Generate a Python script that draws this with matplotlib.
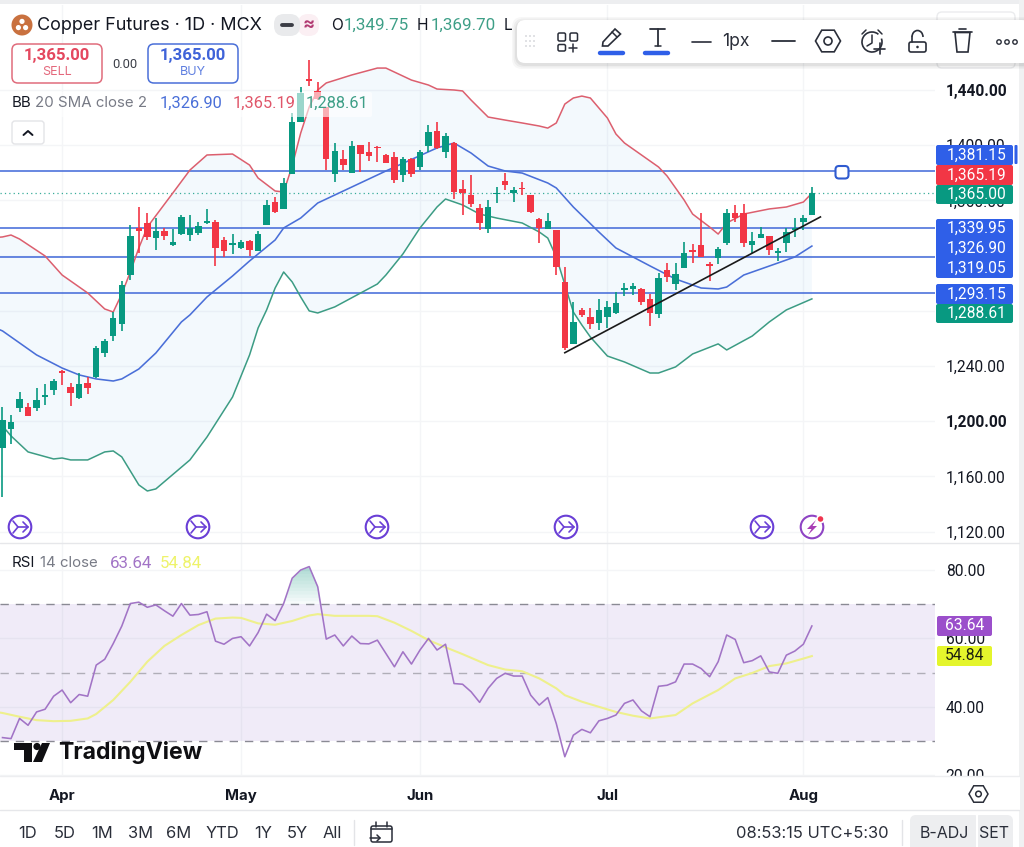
import numpy as np
import matplotlib
matplotlib.use("Agg")
import matplotlib.pyplot as plt
from matplotlib.patches import FancyBboxPatch, Rectangle, Circle, Polygon, RegularPolygon, Arc

plt.rcParams['font.family'] = ['Inter', 'DejaVu Sans']

open_ = [1180.6,1194.3,1209.6,1210.3,1209.6,1217.5,1222.6,1236.4,1224.8,1216.8,1227.7,1232.0,1249.4,1261.7,1270.4,1305.9,
         1340.0,1343.6,1332.7,1337.8,1327.7,1335.6,1334.9,1336.4,1343.6,1344.3,1331.3,1327.7,1325.5,1330.6,1323.3,1342.2,
         1358.8,1353.7,1379.1,1416.8,1448.0,1439.3,1427.7,1379.1,1390.0,1379.8,1400.1,1395.1,1399.0,1392.9,1391.4,1378.4,
         1390.0,1384.2,1399.4,1410.3,1395.1,1401.6,1368.2,1363.9,1354.5,1339.3,1364.6,1374.1,1365.3,1369.3,1363.9,1346.5,
         1339.3,1338.5,1300.9,1255.9,1280.6,1275.5,1271.1,1275.5,1278.4,1295.1,1295.8,1295.8,1288.5,1277.7,1309.6,1299.4,
         1311.0,1324.0,1327.7,1314.2,1318.3,1329.1,1350.9,1350.9,1327.7,1332.7,1334.2,1321.9,1329.1,1338.5,1344.3,1349.75]
high = [1210.3,1204.5,1221.2,1213.2,1224.0,1227.0,1230.6,1237.1,1227.7,1234.9,1232.0,1254.5,1259.6,1279.1,1301.6,1342.2,
        1355.2,1350.9,1347.2,1340.0,1339.3,1349.4,1349.4,1344.3,1353.7,1345.8,1333.5,1335.6,1331.3,1331.3,1337.8,1360.3,
        1362.5,1376.2,1423.3,1442.2,1461.7,1445.8,1428.0,1401.6,1396.5,1403.0,1400.4,1402.3,1399.4,1393.6,1395.1,1391.4,
        1390.7,1396.5,1414.6,1416.8,1408.8,1402.3,1374.8,1378.4,1357.4,1360.3,1369.7,1379.8,1369.7,1373.3,1364.2,1347.2,
        1350.9,1338.8,1311.7,1286.4,1282.0,1282.0,1288.5,1287.1,1293.6,1300.1,1300.1,1296.5,1292.2,1307.4,1314.6,1314.6,
        1329.8,1328.4,1350.9,1315.0,1326.2,1353.7,1356.7,1357.4,1337.1,1340.7,1334.5,1325.5,1340.0,1347.2,1349.4,1369.7]
low = [1145.1,1183.5,1206.7,1203.5,1207.4,1211.7,1219.0,1226.2,1211.0,1216.4,1219.7,1231.5,1246.5,1258.1,1265.4,1302.3,
       1321.9,1331.3,1324.0,1331.3,1327.0,1335.0,1330.6,1334.9,1342.9,1312.5,1319.0,1321.2,1325.0,1319.7,1323.0,1342.0,
       1350.9,1353.5,1379.0,1416.5,1442.9,1432.7,1382.0,1373.3,1382.0,1379.6,1380.6,1388.5,1387.8,1386.8,1372.6,1373.3,
       1377.0,1382.0,1395.1,1397.2,1390.7,1361.0,1349.4,1355.2,1338.5,1336.4,1358.1,1367.5,1358.8,1363.9,1350.9,1329.1,
       1339.0,1305.9,1251.6,1255.6,1275.5,1266.8,1266.1,1267.5,1278.0,1290.7,1291.4,1284.2,1269.0,1274.8,1300.9,1295.1,
       1310.8,1314.6,1318.8,1301.6,1313.9,1327.7,1344.3,1326.2,1321.9,1332.5,1320.4,1316.1,1322.6,1333.5,1338.5,1349.5]
close = [1200.9,1199.4,1216.1,1203.8,1215.4,1219.0,1229.1,1234.9,1220.4,1227.0,1224.1,1253.0,1258.1,1274.8,1298.7,1334.2,
         1337.8,1333.5,1337.8,1334.2,1329.8,1348.0,1340.0,1341.4,1344.7,1325.5,1323.3,1328.8,1329.8,1324.0,1335.6,1356.7,
         1351.6,1372.6,1416.8,1437.8,1446.5,1433.5,1390.0,1395.8,1385.6,1399.4,1393.6,1392.2,1398.0,1387.1,1374.8,1390.0,
         1379.1,1395.1,1409.6,1398.0,1406.7,1366.1,1365.3,1357.4,1343.6,1355.2,1365.7,1371.2,1367.5,1368.2,1351.6,1340.0,
         1345.0,1311.7,1253.0,1271.9,1277.0,1270.4,1280.6,1282.7,1285.6,1296.2,1298.0,1286.4,1278.4,1303.8,1304.5,1306.7,
         1321.9,1322.6,1319.0,1312.8,1324.8,1350.9,1347.2,1329.1,1330.6,1335.6,1324.0,1323.3,1337.1,1340.0,1347.2,1365.0]

upper_i = [-1,0,1,2,5,7,10,12,13,14,15,16,17,20,22,24,27,29,30,32,33,34,35,36,37,38,41,44,45,48,50,51,53,54,55,57,59,61,63,64,65,66,67,68,69,71,72,73,75,77,78,79,80,81,83,84,85,87,90,92,94,95]
upper_v = [1333.0,1333.5,1334.9,1332.0,1319.7,1305.9,1292.9,1281.3,1279.1,1292.2,1308.1,1325.5,1340.7,1365.4,1382.0,1392.9,1393.6,1385.6,1376.2,1366.8,1366.1,1384.9,1408.8,1427.7,1440.0,1445.1,1450.9,1455.9,1455.9,1447.2,1443.6,1440.7,1440.0,1439.3,1432.7,1420.4,1418.2,1416.1,1413.9,1412.4,1416.1,1429.8,1434.2,1435.6,1434.2,1419.7,1408.1,1401.6,1392.9,1384.2,1377.7,1369.0,1360.3,1350.1,1340.7,1335.6,1343.6,1350.1,1353.8,1355.2,1358.8,1365.19]
basis_i = [-1,0,2,4,7,9,11,13,14,16,18,21,22,24,27,29,32,33,35,37,41,45,51,53,55,57,59,61,64,65,67,70,72,76,79,82,84,85,87,91,93,95]
basis_v = [1268.0,1265.4,1256.7,1248.0,1238.5,1233.5,1230.6,1229.1,1230.6,1237.8,1249.4,1271.9,1277.0,1290.0,1305.2,1316.1,1331.3,1340.0,1347.2,1358.1,1369.7,1381.3,1398.0,1401.6,1394.3,1384.9,1381.3,1379.8,1372.6,1369.0,1355.2,1337.1,1325.5,1312.5,1303.0,1296.5,1295.8,1297.2,1305.9,1314.6,1319.0,1326.9]
lower_i = [-1,0,1,2,3,6,7,8,10,12,13,14,16,17,18,22,24,27,29,30,31,32,33,34,35,36,37,39,44,45,47,49,51,52,54,56,58,61,63,64,65,67,68,69,71,73,76,77,79,81,84,85,88,90,92,95]
lower_v = [1203.0,1196.5,1189.3,1183.5,1177.7,1172.6,1173.3,1171.9,1171.9,1177.7,1178.4,1174.1,1153.8,1149.4,1150.9,1171.9,1188.5,1217.5,1248.0,1267.5,1280.6,1296.5,1308.1,1300.9,1290.0,1279.9,1278.4,1282.8,1299.4,1305.9,1321.2,1340.0,1355.2,1361.0,1356.7,1350.1,1347.2,1343.6,1337.1,1332.7,1319.0,1279.1,1269.7,1261.0,1247.2,1242.9,1234.9,1234.9,1239.3,1248.7,1256.0,1251.6,1261.7,1271.9,1280.6,1288.61]

rsi = [31.0,30.7,36.6,34.6,38.5,39.3,43.1,44.9,41.2,43.6,43.1,52.2,53.9,58.5,63.6,70.2,
       70.6,69.1,69.8,68.1,66.5,70.2,66.8,67.0,67.8,59.2,58.3,60.0,60.5,57.8,61.7,67.1,
       65.2,70.2,77.6,80.0,81.0,75.1,59.8,61.0,57.8,60.7,58.5,58.4,59.5,55.6,51.7,56.1,
       52.5,56.6,60.0,56.6,58.3,46.8,46.6,44.4,41.3,45.4,48.3,49.8,49.0,49.0,43.4,40.5,
       42.7,35.1,25.4,31.7,33.4,32.4,35.9,36.6,37.6,41.0,42.0,38.8,37.1,46.0,46.3,47.3,
       52.5,52.5,51.2,48.8,53.2,61.0,59.7,52.9,53.5,54.9,50.2,49.8,55.1,56.3,58.3,63.64]
rsi_ma_i = [-1,0,2,4,6,8,10,11,13,15,17,19,21,23,25,27,28,30,32,34,36,37,39,43,44,46,48,50,52,54,57,59,61,63,65,66,68,70,72,74,76,79,81,84,86,88,90,92,94,95]
rsi_ma_v = [38.6,38.2,37.1,36.1,35.8,35.9,36.6,37.9,42.0,47.3,53.2,57.8,61.0,63.9,65.8,66.1,66.0,64.4,64.0,65.1,66.7,67.1,66.6,66.6,66.5,64.6,62.2,59.5,57.4,55.4,52.2,50.9,50.4,48.3,45.4,43.4,41.5,40.0,38.5,37.4,36.6,37.6,41.0,44.9,48.3,49.9,51.9,52.7,54.1,54.84]

h_levels = [1381.15, 1339.95, 1319.05, 1293.15]
trend_i = [66, 96]
trend_v = [1249.6, 1348.0]
last_price = 1365.0
month_pos = [7, 28, 49, 71, 94]
month_lab = ['Apr', 'May', 'Jun', 'Jul', 'Aug']
price_ticks = [1120, 1160, 1200, 1240, 1280, 1320, 1360, 1400, 1440]
rsi_ticks = [20, 40, 60, 80]
range_buttons = ['1D', '5D', '1M', '3M', '6M', 'YTD', '1Y', '5Y', 'All']

W, H = 1024, 847
GREEN, RED = '#089981', '#F23645'
BLUE_LINE = '#3F67D8'
INK, GREY = '#131722', '#787B86'
NUM = 'Roboto'
px = lambda s: s * 0.72

fig = plt.figure(figsize=(W / 100, H / 100), dpi=100, facecolor='white')
def pane(x0, x1, ytop, ybot):
    return fig.add_axes([x0 / W, 1 - ybot / H, (x1 - x0) / W, (ybot - ytop) / H])

xlim = (-0.293, 109.45)
ax = pane(0, 935, 5, 543)
ar = pane(0, 935, 543, 776)
for a in (ax, ar):
    a.set_xlim(*xlim)
    a.set_facecolor('white')
    for s in a.spines.values():
        s.set_visible(False)
    a.set_xticks(month_pos)
    a.grid(True, color='#F4F5F7', lw=1)
    a.set_axisbelow(True)
    a.yaxis.tick_right()
    a.tick_params(length=0, labelcolor=INK)
    a.tick_params(axis='y', labelsize=px(15.5), labelfontfamily=NUM)
ax.set_ylim(1111.7, 1501.6)
ar.set_ylim(19.77, 87.9)

# price pane
ax.set_xticklabels([])
ax.set_yticks(price_ticks)
ax.set_yticklabels([f'{v:,.2f}' for v in price_ticks])
ax.tick_params(axis='y', pad=8)
for lab, v in zip(ax.get_yticklabels(), price_ticks):
    if v in (1440, 1200):
        lab.set_fontweight('bold')

ax.fill(np.r_[upper_i, lower_i[::-1]], np.r_[upper_v, lower_v[::-1]], color='#3F9CE8', alpha=0.06, lw=0, zorder=1)
for lv in h_levels:
    ax.axhline(lv, color=BLUE_LINE, lw=1.1, zorder=2)
ax.axhline(last_price, color=GREEN, lw=0.9, ls=(0, (1, 2.5)), alpha=0.8, zorder=2)
ax.plot(upper_i, upper_v, color='#DC5F6E', lw=1.1, zorder=2.5)
ax.plot(basis_i, basis_v, color='#4A6FD8', lw=1.15, zorder=2.5)
ax.plot(lower_i, lower_v, color='#3C9C84', lw=1.1, zorder=2.5)

xs = np.arange(len(close))
cols = [GREEN if c >= o else RED for o, c in zip(open_, close)]
ax.vlines(xs, low, high, colors=cols, lw=1.2, zorder=3)
ax.bar(xs, np.abs(np.array(close) - np.array(open_)), bottom=np.minimum(open_, close),
       width=0.76, color=cols, lw=0, zorder=3.2)
ax.plot(trend_i, trend_v, color='#1a1a1a', lw=1.2, zorder=4)

# RSI pane
ar.set_xticklabels(month_lab, fontweight='bold', fontsize=px(15))
ar.tick_params(axis='x', pad=9.3, labelcolor=INK)
ar.set_yticks(rsi_ticks)
ar.set_yticklabels([f'{v:.2f}' for v in rsi_ticks])
ar.tick_params(axis='y', pad=7.7)
ar.axhspan(30, 70, color='#7E57C2', alpha=0.115, lw=0, zorder=1)
for lv, c in ((70, '#8a8a94'), (50, '#b0aeb8'), (30, '#8a8a94')):
    ar.axhline(lv, color=c, lw=1, ls=(0, (6, 5)), zorder=1.5)
for lv in np.arange(70, 81, 1.0):
    ar.fill_between(xs, lv, rsi, where=np.array(rsi) > lv, interpolate=True,
                    color=GREEN, alpha=0.033, lw=0, zorder=1.6)
ar.plot(rsi_ma_i, rsi_ma_v, color='#EEF08C', lw=1.5, zorder=2)
ar.plot(xs, rsi, color='#A274C6', lw=1.15, zorder=3)

# interface layer, in pixels
ui = fig.add_axes([0, 0, 1, 1], zorder=10)
ui.set_xlim(0, W)
ui.set_ylim(H, 0)
ui.axis('off')
ui.patch.set_visible(False)

def box(x0, y0, x1, y1, fc='none', ec='none', lw=1, r=3, z=5, alpha=None):
    p = FancyBboxPatch((x0 + r, y0 + r), x1 - x0 - 2 * r, y1 - y0 - 2 * r,
                       boxstyle=f'round,pad={r},rounding_size={r}', fc=fc, ec=ec, lw=lw, zorder=z, alpha=alpha)
    ui.add_patch(p)
def T(x, y, s, size=14, color=INK, ha='left', va='center', weight='normal', z=7, **k):
    return ui.text(x, y, s, fontsize=px(size), color=color, ha=ha, va=va, fontweight=weight, zorder=z, **k)
def N(x, y, s, size=15.5, color=INK, ha='left', weight='normal', z=7):
    return T(x, y, s, size, color, ha=ha, weight=weight, z=z, family=NUM)
def L(xs_, ys_, color=INK, lw=1.2, z=7, **k):
    ui.plot(xs_, ys_, color=color, lw=lw, zorder=z, solid_capstyle='round', **k)

# page edges and separators
ui.add_patch(Rectangle((0, 0), W, 4.5, fc='#EDEEF0', lw=0, zorder=1))
ui.add_patch(Rectangle((1019, 0), 5, H, fc='#F0F1F2', lw=0, zorder=1))
ui.add_patch(Rectangle((935.5, 776), 84, 34, fc='white', lw=0, zorder=1))
L([0, 1019], [543, 543], '#E6E7EA', 1, 2)
L([0, 1019], [776, 776], '#EDEEF0', 1, 2)
L([0, 1019], [810.5, 810.5], '#E6E7EA', 1, 2)

# legends
box(8, 92, 372, 117, fc='white', alpha=0.6, r=2, z=3)
ui.add_patch(Circle((22, 25), 10.5, fc='#C9713F', lw=0, zorder=6))
for dx, dy in [(0, -3.6), (-3.6, 2.6), (3.6, 2.6)]:
    ui.add_patch(Circle((22 + dx, 25 + dy), 2.6, fc='white', lw=0, zorder=7))
T(37, 25, 'Copper Futures · 1D · MCX', 18)
box(274, 14, 300, 36, fc='#E9EAEC', r=10, z=5)
box(298, 14, 319, 36, fc='#FBEFF3', r=10, z=4.9)
L([282, 292], [25, 25], '#3b3d45', 2.8)
T(308.5, 24.5, '≈', 18, '#B23A72', ha='center', weight='bold')
T(331, 25, 'O', 15.5)
N(344, 25, '1,349.75', 17, '#3E9F87')
T(417, 25, 'H', 15.5)
N(431, 25, '1,369.70', 17, '#3E9F87')
T(504, 25, 'L', 15.5)

box(12, 44, 102, 83, fc='white', ec='#E06C7C', lw=1.1, r=6)
N(57, 55.5, '1,365.00', 16.8, '#E4485F', ha='center', weight='bold')
T(57, 72, 'SELL', 12.5, '#E4687C', ha='center')
N(125, 64, '0.00', 13, '#3C3F48', ha='center')
box(148, 44, 238, 83, fc='white', ec='#4A6FD8', lw=1.1, r=6)
N(193, 55.5, '1,365.00', 16.8, '#3F63D9', ha='center', weight='bold')
T(193, 72, 'BUY', 12.5, '#5F7FE0', ha='center')

T(12, 103, 'BB', 15)
T(35, 103, '20 SMA close 2', 15, GREY)
N(160, 103, '1,326.90', 16.4, '#4A6FD8')
N(233, 103, '1,365.19', 16.4, '#E0566A')
N(306, 103, '1,288.61', 16.4, '#3E9F87')
box(12, 121, 44, 144, fc='white', ec='#E3E4E7', r=3)
L([23.5, 28, 32.5], [135, 131, 135], INK, 1.4)

T(12, 563, 'RSI', 15)
T(40, 563, '14 close', 15, GREY)
N(110, 563, '63.64', 16.9, '#A274C6')
N(160, 563, '54.84', 16.9, '#EEF36A')

# price labels
for y0, y1, s, c in [(145, 165, '1,381.15', '#2F5FE8'), (165, 185, '1,365.19', RED), (185, 204, '1,365.00', GREEN),
                     (284, 304, '1,293.15', '#2F5FE8'), (304, 323, '1,288.61', GREEN)]:
    box(936, y0, 1013, y1, fc=c, r=2)
    N(976.5, (y0 + y1) / 2, s, 15.5, 'white', ha='center')
box(936, 219, 1013, 278, fc='#2F5FE8', r=2)
for y, s in [(228, '1,339.95'), (248, '1,326.90'), (268, '1,319.05')]:
    N(976.5, y, s, 15.5, 'white', ha='center')
box(1014.5, 145, 1017.5, 164, fc='#2F5FE8', r=1)
box(937, 616, 992, 636, fc='#9B4FCB', r=2)
N(965, 626, '63.64', 15.7, 'white', ha='center')
box(937, 646, 992, 666, fc='#E4F52C', r=2)
N(965, 656, '54.84', 15.7, '#1c2010', ha='center')

# line handle
box(835.5, 166, 848.5, 178.5, fc='white', ec='#2F5BD0', lw=1.5, r=3.5, z=6)

# event marks
ICON = '#6A3FD6'
for x in [20, 198, 377, 566, 762]:
    ui.add_patch(Circle((x, 527), 11.3, fc='white', ec=ICON, lw=1.5, zorder=6))
    L([x - 7, x - 2, x + 8], [521, 527, 527], ICON, 1.2)
    L([x - 7, x - 2], [533, 527], ICON, 1.2)
    L([x + 3, x + 8, x + 3], [522, 527, 532], ICON, 1.2)
ui.add_patch(Circle((812, 527), 11.3, fc='white', ec='#8E44C4', lw=1.5, zorder=6))
ui.add_patch(Polygon([(816, 520), (807, 529), (811.5, 529), (808, 535), (817, 526), (812.5, 526)], fc='#A83CB4', lw=0, zorder=7))
ui.add_patch(Circle((820.5, 519), 3.6, fc='#F0354F', ec='white', lw=1.2, zorder=8))

# watermark
ui.add_patch(Polygon([(14, 743), (32, 743), (32, 762), (24, 762), (24, 750), (14, 750)], fc='#0f0f12', lw=0, zorder=7))
ui.add_patch(Circle((37, 746.5), 3.6, fc='#0f0f12', lw=0, zorder=7))
ui.add_patch(Polygon([(42, 743), (50, 743), (42, 762), (33, 762)], fc='#0f0f12', lw=0, zorder=7))
T(58, 752, 'TradingView', 23, '#0f0f12', weight='bold')

# toolbar
box(937, 12, 1015, 68, fc='white', ec='#EBECEE', r=5, z=4)
for off, al in [(5, 0.03), (3.5, 0.04), (2, 0.05)]:
    box(517 - off, 20 - off + 2, 1030 + off, 63 + off + 1, fc='black', alpha=al, r=10, z=8)
box(517, 20, 1030, 63, fc='white', r=8, z=8.5)
TI = '#2a2e39'
for gx in (526, 530, 534):
    for gy in (36, 41, 46):
        ui.add_patch(Circle((gx, gy), 0.8, fc='#C4C6CC', lw=0, zorder=9))
for (x0, y0, w, h) in [(558, 33, 7.5, 8), (570, 33, 7.5, 8), (558, 44.5, 7.5, 6.5)]:
    box(x0, y0, x0 + w, y0 + h, ec=TI, lw=1.1, r=1.5, z=9)
L([569, 577], [48, 48], TI, 1.1, 9)
L([573, 573], [44, 52], TI, 1.1, 9)
ui.add_patch(Polygon([(603, 42), (615, 29), (620.5, 34), (608, 46), (602.5, 46)], fc='white', ec=TI, lw=1.2, zorder=9))
L([612, 617], [32, 37], TI, 1.1, 9)
L([600, 623], [53, 53], '#2F5FE8', 3.2, 9)
L([650, 665], [29.5, 29.5], TI, 1.3, 9)
L([657.5, 657.5], [29.5, 46], TI, 1.3, 9)
L([654.5, 660.5], [46, 46], TI, 1.1, 9)
L([645, 668], [53, 53], '#2F5FE8', 3.2, 9)
L([692, 711], [42, 42], TI, 1.2, 9)
T(722, 42, '1px', 17.5, TI, z=9)
L([772, 795], [41, 41], TI, 1.3, 9)
ui.add_patch(RegularPolygon((828, 41), 6, radius=12.5, orientation=np.pi / 2, fc='white', ec=TI, lw=1.2, zorder=9))
ui.add_patch(Circle((828, 41), 4, fc='white', ec=TI, lw=1.2, zorder=9.5))
ui.add_patch(Arc((872, 42), 20, 20, theta1=-20, theta2=310, ec=TI, lw=1.2, zorder=9))
L([872, 872, 867], [35, 43, 46], TI, 1.1, 9)
L([862, 866], [34, 30], TI, 1.1, 9)
L([878, 882], [30, 34], TI, 1.1, 9)
L([874, 885], [49, 49], TI, 1.2, 9)
L([879.5, 879.5], [43.5, 54.5], TI, 1.2, 9)
box(909, 42, 926, 52, ec=TI, lw=1.2, r=2, z=9)
ui.add_patch(Circle((917.5, 47), 1.3, fc=TI, lw=0, zorder=9))
ui.add_patch(Arc((917.5, 37), 11, 13, theta1=180, theta2=360, ec=TI, lw=1.2, zorder=9))
L([912, 912], [37, 42], TI, 1.2, 9)
L([953, 972], [32.5, 32.5], TI, 1.2, 9)
L([959, 966], [29.5, 29.5], TI, 1.2, 9)
ui.add_patch(Polygon([(955, 32.5), (970, 32.5), (968, 52), (957, 52)], fc='white', ec=TI, lw=1.2, zorder=9))
for cx in (999, 1007, 1015):
    ui.add_patch(Circle((cx, 42), 2.2, fc='white', ec=TI, lw=1.0, zorder=9))

# time-axis settings icon
ui.add_patch(RegularPolygon((978.5, 794), 6, radius=9.5, orientation=np.pi / 2, fc='white', ec=TI, lw=1.1, zorder=7))
ui.add_patch(Circle((978.5, 794), 2.8, fc='white', ec=TI, lw=1.1, zorder=7.5))

# bottom toolbar
for x, s in zip([28, 64.5, 102, 140.5, 179, 222, 263, 297.5, 332], range_buttons):
    T(x, 834, s, 16.5, '#2a2e39', ha='center')
L([353.5, 353.5], [820, 845], '#E3E4E7', 1, 3)
box(371, 826, 392, 842, ec=TI, lw=1.1, r=2)
L([371, 392], [829.5, 829.5], TI, 1.1)
L([376, 376], [822, 827], TI, 1.1)
L([387, 387], [822, 827], TI, 1.1)
L([370, 380], [838, 838], TI, 1.1)
L([377, 380, 377], [835, 838, 841], TI, 1.1)
T(736, 833.5, '08:53:15 UTC+5:30', 16.5, '#2a2e39')
L([902, 902], [820, 845], '#E3E4E7', 1, 3)
box(910, 815, 980, 860, fc='#EDEEF0', r=6, z=3)
box(974, 815, 1013, 860, fc='#EDEEF0', r=6, z=3)
ui.add_patch(Rectangle((975.5, 815), 2.5, 32, fc='white', lw=0, zorder=3.5))
T(944, 833.5, 'B-ADJ', 16, '#2a2e39', ha='center')
T(994.5, 833.5, 'SET', 16, '#2a2e39', ha='center')

fig.savefig('out.png', dpi=100)
